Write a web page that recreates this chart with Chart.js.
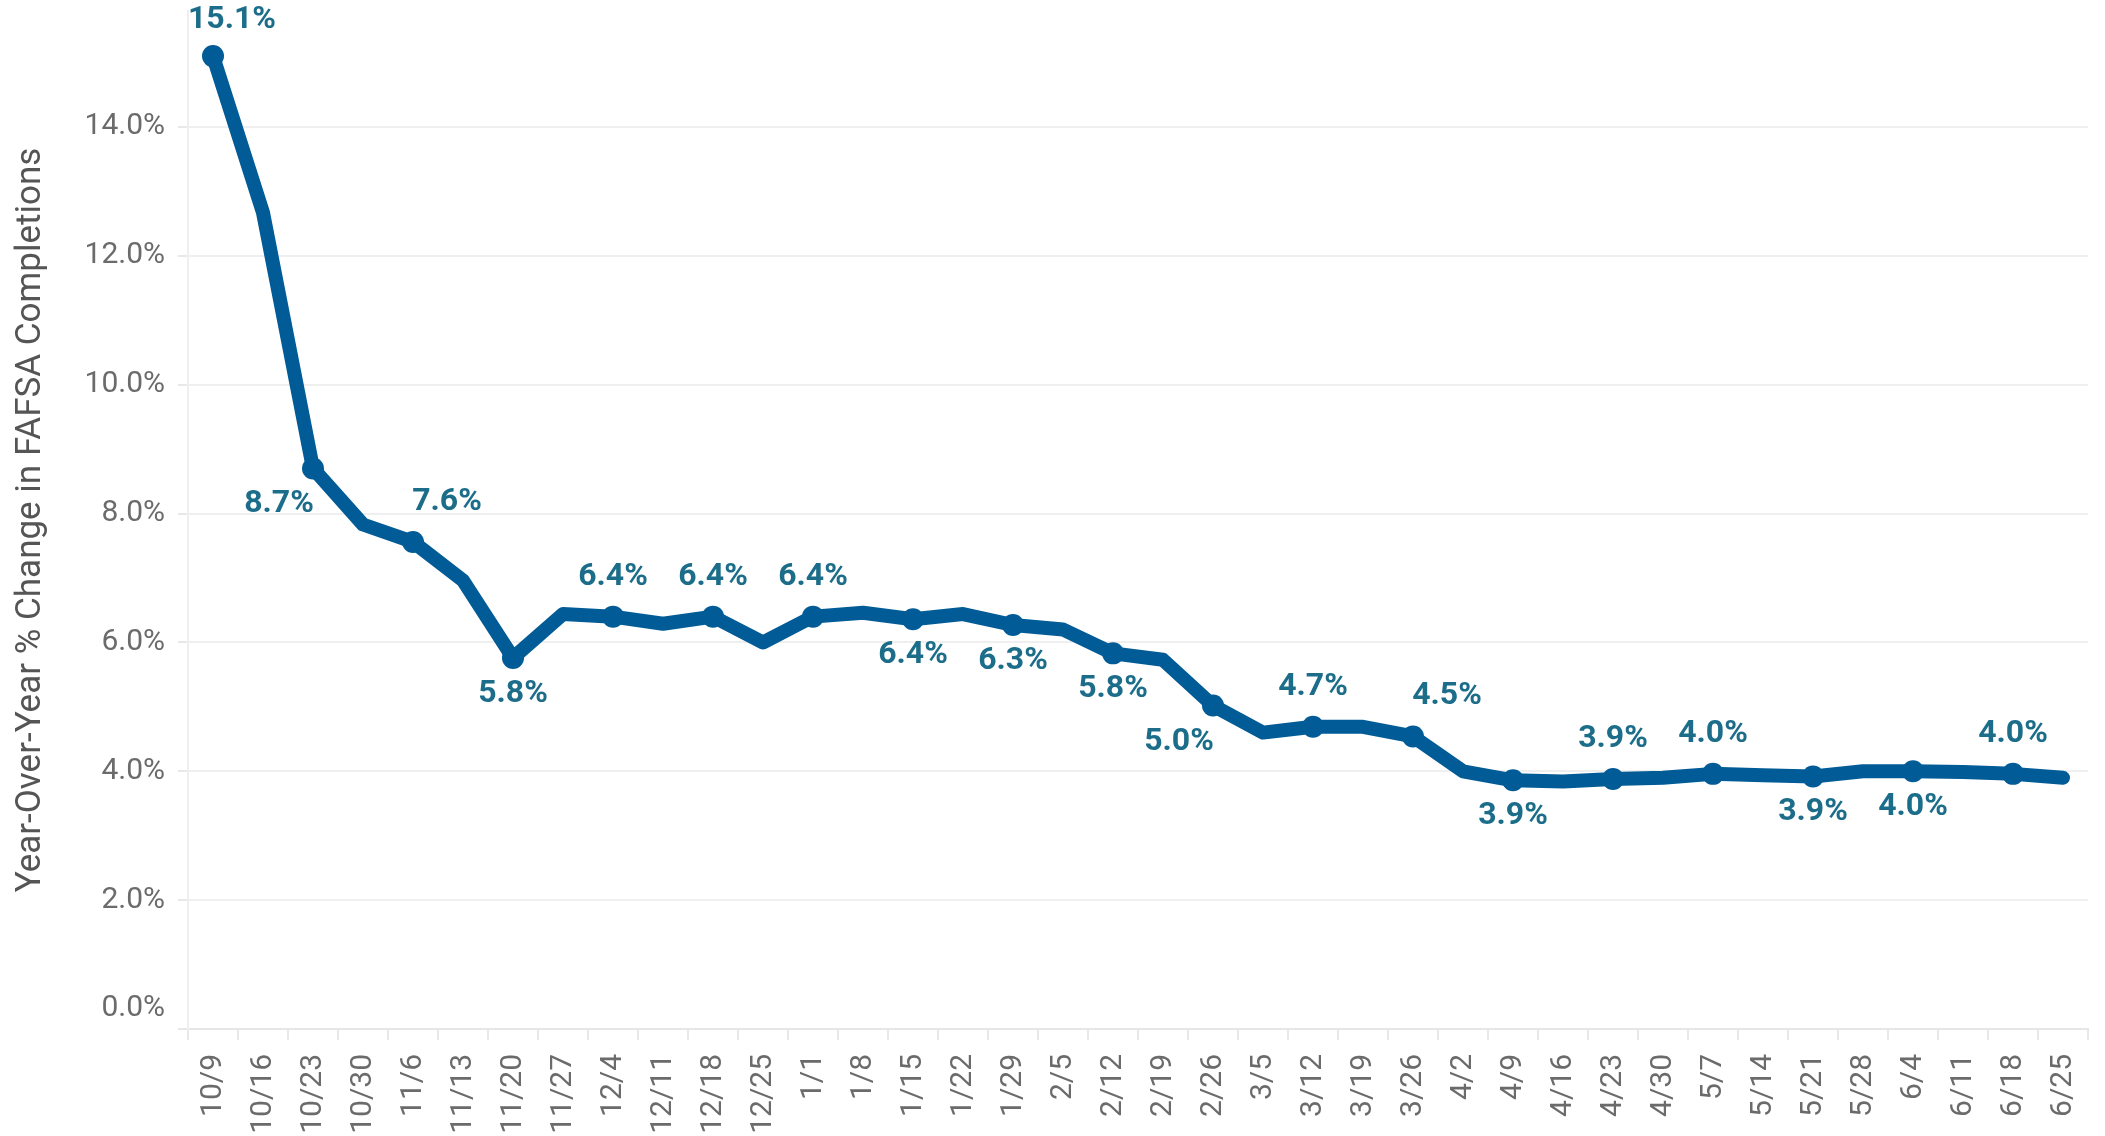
<!DOCTYPE html>
<html>
<head>
<meta charset="utf-8">
<script src="https://cdn.jsdelivr.net/npm/chart.js@4.4.1/dist/chart.umd.min.js"></script>
<style>
  html, body { margin: 0; padding: 0; background: #fff; }
  #wrap { width: 2105px; height: 1136px; }
</style>
</head>
<body>
<div id="wrap"><canvas id="chart" width="2105" height="1136"></canvas></div>
<script>
// weekly dates (Oct -> Jun)
const weeks = ['10/9', '10/16', '10/23', '10/30', '11/6', '11/13', '11/20', '11/27',
  '12/4', '12/11', '12/18', '12/25', '1/1', '1/8', '1/15', '1/22', '1/29', '2/5',
  '2/12', '2/19', '2/26', '3/5', '3/12', '3/19', '3/26', '4/2', '4/9', '4/16',
  '4/23', '4/30', '5/7', '5/14', '5/21', '5/28', '6/4', '6/11', '6/18', '6/25'];

// year-over-year % change in FAFSA completions
const yoyChange = [15.1, 12.67, 8.7, 7.83, 7.56, 6.96, 5.76, 6.44,
  6.4, 6.29, 6.4, 6.0, 6.4, 6.46, 6.36, 6.44, 6.27, 6.2,
  5.83, 5.73, 5.02, 4.6, 4.69, 4.69, 4.54, 4.0, 3.86, 3.84,
  3.88, 3.9, 3.96, 3.94, 3.92, 4.0, 4.0, 3.99, 3.96, 3.9];

// labels shown on the chart (null = no label / no marker)
const pointLabels = ['15.1%', null, '8.7%', null, '7.6%', null, '5.8%', null,
  '6.4%', null, '6.4%', null, '6.4%', null, '6.4%', null, '6.3%', null,
  '5.8%', null, '5.0%', null, '4.7%', null, '4.5%', null, '3.9%', null,
  '3.9%', null, '4.0%', null, '3.9%', null, '4.0%', null, '4.0%', null];

const yTicks = [0, 2, 4, 6, 8, 10, 12, 14];

// where each label sits relative to its point
const labelSpots = ['a', null, 'bl', null, 'ar', null, 'b', null,
  'a', null, 'a', null, 'a', null, 'b', null, 'b', null,
  'b', null, 'bl', null, 'a', null, 'ar', null, 'b', null,
  'a', null, 'a', null, 'b', null, 'b', null, 'a', null];

const LINE = '#005b96';
const LABEL = '#1c6d8a';

const spotOffset = {
  a: [0, -40], b: [0, 36], bl: [-34, 36], ar: [34, -40]
};

const pointLabelPlugin = {
  id: 'pointLabels',
  afterDatasetsDraw(chart) {
    const { ctx, chartArea } = chart;
    const meta = chart.getDatasetMeta(0);
    ctx.save();
    ctx.font = 'bold 32px Roboto';
    ctx.fillStyle = LABEL;
    ctx.textAlign = 'center';
    ctx.textBaseline = 'middle';
    meta.data.forEach((pt, i) => {
      const txt = pointLabels[i];
      if (!txt) return;
      const [dx, dy] = spotOffset[labelSpots[i]];
      const w = ctx.measureText(txt).width;
      let x = pt.x + dx;
      x = Math.max(x, chartArea.left + w / 2);
      ctx.fillText(txt, x, Math.max(pt.y + dy, 20));
    });
    // Tableau nudges the 0.0% label above the axis line
    const y = chart.scales.y;
    ctx.font = '30px Roboto';
    ctx.fillStyle = '#6b6b6b';
    ctx.textAlign = 'right';
    ctx.fillText('0.0%', y.right - 23, y.getPixelForValue(0) - 21);
    ctx.restore();
  }
};

new Chart(document.getElementById('chart').getContext('2d'), {
  type: 'line',
  data: {
    labels: weeks,
    datasets: [{
      data: yoyChange,
      borderColor: LINE,
      backgroundColor: LINE,
      borderWidth: 14,
      borderJoinStyle: 'round',
      borderCapStyle: 'round',
      tension: 0,
      clip: false,
      pointRadius: pointLabels.map(l => l ? 11 : 0),
      pointHoverRadius: 0,
      pointBorderWidth: 0,
      pointBackgroundColor: LINE
    }]
  },
  options: {
    responsive: false,
    animation: false,
    devicePixelRatio: 1,
    layout: { padding: { top: 0, right: 17, left: 0, bottom: 0 } },
    plugins: {
      legend: { display: false },
      tooltip: { enabled: false }
    },
    scales: {
      x: {
        offset: true,
        afterFit: s => {
          s.height = 107;
          s.paddingLeft = 0;
          s.paddingRight = 0;
        },
        grid: {
          offset: true,
          drawOnChartArea: false,
          drawTicks: true,
          tickLength: 11,
          color: '#e8e8e8',
          lineWidth: 2
        },
        border: { display: true, color: '#e6e6e6', width: 2 },
        ticks: {
          autoSkip: false,
          minRotation: 90,
          maxRotation: 90,
          padding: 14,
          color: '#6b6b6b',
          font: { family: 'Roboto', size: 30 }
        }
      },
      y: {
        bounds: 'data',
        min: 0,
        max: 15.8,
        afterFit: s => {
          s.width = 188;
          s.paddingTop = 0;
          s.paddingBottom = 0;
        },
        afterBuildTicks: s => { s.ticks = yTicks.map(v => ({ value: v })); },
        grid: {
          color: '#efefef',
          lineWidth: 2,
          tickLength: 10,
          tickColor: '#e8e8e8'
        },
        border: { display: true, color: '#efefef', width: 2 },
        ticks: {
          padding: 13,
          color: '#6b6b6b',
          font: { family: 'Roboto', size: 30 },
          callback: v => v === 0 ? '' : v.toFixed(1) + '%'
        },
        title: {
          display: true,
          text: 'Year-Over-Year % Change in FAFSA Completions',
          color: '#555555',
          font: { family: 'Roboto', size: 35 },
          padding: { top: 10, bottom: 0 }
        }
      }
    }
  },
  plugins: [pointLabelPlugin]
});
</script>
</body>
</html>
